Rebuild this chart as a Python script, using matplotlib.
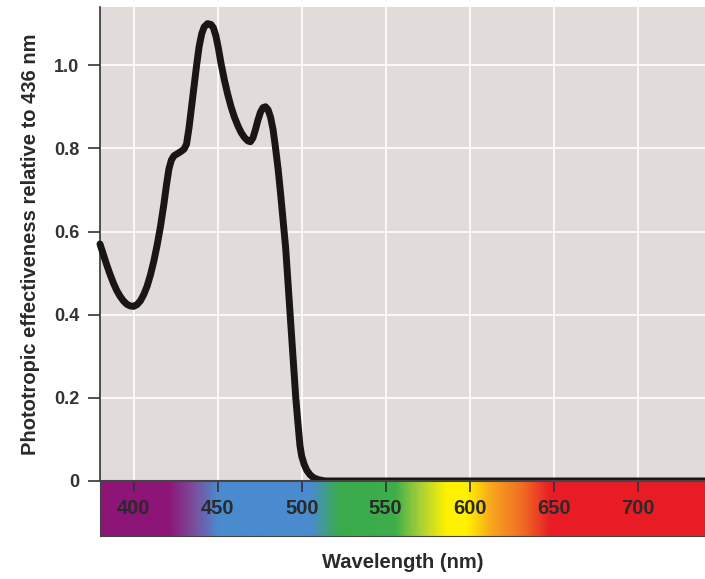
import numpy as np
import matplotlib.pyplot as plt
import matplotlib
from matplotlib.colors import LinearSegmentedColormap

matplotlib.rcParams['font.family'] = ['Liberation Sans', 'DejaVu Sans']

# ============================================================
# data: phototropic action spectrum
# ============================================================
wavelength = [380, 382, 384, 386, 388, 390, 392, 394, 396, 398, 400, 402, 404, 406,
              408, 410, 412, 414, 416, 418, 419.5, 421, 422.5, 424, 426, 428, 430,
              431.5, 433, 434.5, 436, 437.5, 439, 440.5, 442, 444, 446, 447.5, 449,
              450.5, 452, 454, 456, 458, 460, 462, 464, 466, 468, 469.5, 471, 472.5,
              474, 475.5, 477, 478.5, 480, 481.5, 483, 484.5, 486, 487.5, 489, 490.5,
              492, 493.5, 495, 496.5, 498, 499, 500, 501.5, 503, 505, 507, 510, 514, 740]
effectiveness = [0.570, 0.545, 0.520, 0.497, 0.476, 0.458, 0.444, 0.433, 0.425, 0.421, 0.420, 0.424, 0.433, 0.448,
                 0.468, 0.495, 0.528, 0.567, 0.612, 0.665, 0.710, 0.750, 0.772, 0.782, 0.787, 0.792, 0.798,
                 0.810, 0.850, 0.900, 0.950, 1.000, 1.045, 1.075, 1.092, 1.100, 1.098, 1.090, 1.070,
                 1.040, 1.005, 0.965, 0.930, 0.900, 0.875, 0.855, 0.838, 0.826, 0.818, 0.816, 0.825, 0.845,
                 0.868, 0.887, 0.898, 0.900, 0.893, 0.875, 0.845, 0.800, 0.750, 0.690, 0.625, 0.560,
                 0.470, 0.380, 0.290, 0.200, 0.130, 0.085, 0.060, 0.040, 0.026, 0.015, 0.008, 0.003, 0.0, 0.0]

y_ticks = [0, 0.2, 0.4, 0.6, 0.8, 1.0]
y_tick_labels = ['0', '0.2', '0.4', '0.6', '0.8', '1.0']
x_ticks = [400, 450, 500, 550, 600, 650, 700]

# spectrum colour stops (wavelength, colour)
spec_wl = [380, 420, 435, 450, 505, 522, 555, 570, 586, 598, 613, 632, 648, 740]
spec_col = ['#8c1577', '#8c1577', '#7d4c9c', '#4a8bcf', '#4a8bcf', '#3aab4c', '#3dae4a',
            '#a6cf3a', '#fff200', '#fff200', '#f9a51e', '#ef6a24', '#e91c26', '#e91c26']

XMIN, XMAX = 380, 740

fig = plt.figure(figsize=(7.05, 5.79), dpi=100)
ax = fig.add_axes([0.1418, 0.1693, 0.8582, 0.8186])
ax.set_facecolor('#e1dcda')

ax.plot(wavelength, effectiveness, color='#1a1616', lw=5,
        solid_capstyle='round', solid_joinstyle='round', zorder=5, clip_on=False)

ax.set_xlim(XMIN, XMAX)
ax.set_ylim(0, 1.14)
ax.set_yticks(y_ticks)
ax.set_yticklabels(y_tick_labels, fontsize=13, fontweight='bold', color='#333333')
ax.set_xticks(x_ticks)
ax.tick_params(axis='x', length=0, labelbottom=False)
ax.tick_params(axis='y', length=9, width=1.2, color='#333333', pad=6)
ax.grid(True, color='white', lw=1.2)
ax.set_axisbelow(True)
for s in ['top', 'right', 'bottom']:
    ax.spines[s].set_visible(False)
ax.spines['left'].set_color('#333333')
ax.spines['left'].set_linewidth(1.2)

ax.set_ylabel('Phototropic effectiveness relative to 436 nm', fontsize=14.5,
              fontweight='bold', color='#2a2a2a', labelpad=10)

# ============================================================
# spectrum bar
# ============================================================
bax = fig.add_axes([0.1418, 0.0743, 0.8582, 0.095])
stops = [(w - XMIN) / (XMAX - XMIN) for w in spec_wl]
cmap = LinearSegmentedColormap.from_list('spec', list(zip(stops, spec_col)))
grad = np.linspace(0, 1, 800).reshape(1, -1)
bax.imshow(grad, aspect='auto', cmap=cmap, extent=[XMIN, XMAX, 0, 1])
bax.set_xlim(XMIN, XMAX)
bax.set_ylim(0, 1)
bax.set_yticks([])
bax.set_xticks(x_ticks)
bax.tick_params(axis='x', direction='in', top=True, bottom=False,
                labeltop=False, labelbottom=False, length=8, width=1.2, color='#333333')
for w in x_ticks:
    bax.text(w, 0.5, str(w), ha='center', va='center', fontsize=14.5,
             fontweight='bold', color='#2a2a2a')
for s in bax.spines.values():
    s.set_color('#444444')
    s.set_linewidth(0.8)
bax.spines['top'].set_linewidth(1.5)

fig.text(0.571, 0.028, 'Wavelength (nm)', ha='center', va='center', fontsize=14.5,
         fontweight='bold', color='#2a2a2a')

plt.savefig('out.png', dpi=100)
plt.close()
